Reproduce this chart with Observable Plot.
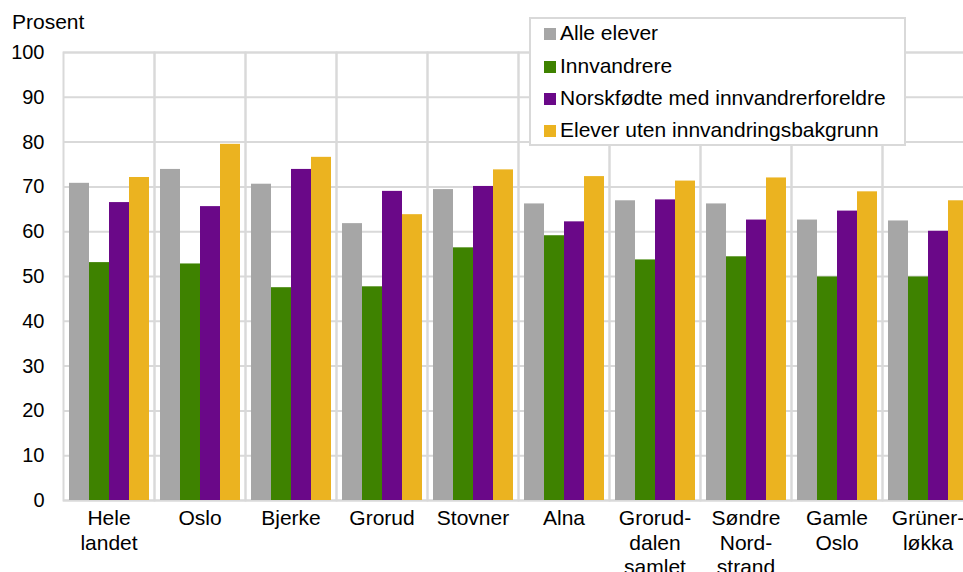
<!DOCTYPE html>
<html>
<head>
<meta charset="utf-8">
<script src="https://cdn.jsdelivr.net/npm/d3@7"></script>
<script src="https://cdn.jsdelivr.net/npm/@observablehq/plot@0.6"></script>
<style>
  body { margin: 0; background: #fff; font-family: "Liberation Sans", Arial, sans-serif; }
  #wrap { position: relative; width: 963px; height: 572px; overflow: hidden; }
  #ylab { position: absolute; left: 12px; top: 10px; font-size: 21px; color: #000; }
  #legend { position: absolute; left: 529px; top: 17px; width: 373px; height: 125px;
    border: 2px solid #d9d9d9; background: #fff; }
  .row { position: absolute; left: 13px; font-size: 21px; line-height: 20px; color: #000; white-space: nowrap; }
  .sw { display: inline-block; width: 12px; height: 12px; margin-right: 4px; vertical-align: 0px; }
</style>
</head>
<body>
<div id="wrap">
  <div id="chart"></div>
  <div id="ylab">Prosent</div>
  <div id="legend"></div>
</div>
<script>
const categories = ["Hele\nlandet", "Oslo", "Bjerke", "Grorud", "Stovner", "Alna", "Grorud-\ndalen\nsamlet", "Søndre\nNord-\nstrand", "Gamle\nOslo", "Grüner-\nløkka"];
const series = ["Alle elever", "Innvandrere", "Norskfødte med innvandrerforeldre", "Elever uten innvandringsbakgrunn"];
const colors = ["#a6a6a6", "#3e8200", "#6a0888", "#ebb320"];
const alleElever   = [70.8, 73.9, 70.6, 61.8, 69.4, 66.2, 66.9, 66.2, 62.6, 62.4];
const innvandrere  = [53.1, 52.8, 47.5, 47.7, 56.4, 59.1, 53.7, 54.4, 49.9, 49.9];
const norskfodte   = [66.5, 65.6, 73.9, 69.0, 70.1, 62.2, 67.1, 62.6, 64.6, 60.1];
const utenBakgrunn = [72.1, 79.5, 76.6, 63.8, 73.8, 72.3, 71.3, 72.0, 68.9, 66.9];
const yTicks = [0, 10, 20, 30, 40, 50, 60, 70, 80, 90, 100];

const valueArrays = [alleElever, innvandrere, norskfodte, utenBakgrunn];
const data = [];
categories.forEach((c, i) => {
  series.forEach((s, j) => data.push({cat: c, series: s, value: valueArrays[j][i]}));
});

const chart = Plot.plot({
  width: 963,
  height: 572,
  marginLeft: 62,
  marginRight: -10,
  marginTop: 52,
  marginBottom: 72,
  style: {fontFamily: "'Liberation Sans', Arial, sans-serif", fontSize: "21px", color: "#000", background: "transparent"},
  fx: {domain: categories, padding: 0, axis: null},
  x: {domain: series, axis: null, paddingInner: 0, paddingOuter: 0.25},
  y: {domain: [0, 100], axis: null},
  color: {domain: series, range: colors},
  marks: [
    Plot.gridY(yTicks, {stroke: "#d9d9d9", strokeWidth: 2, strokeOpacity: 1}),
    Plot.frame({stroke: "#d9d9d9", strokeWidth: 2}),
    Plot.barY(data, {fx: "cat", x: "series", y: "value", fill: "series"}),
    Plot.axisY(yTicks, {anchor: "left", tickSize: 0, tickPadding: 19, fontSize: 20, label: null}),
    Plot.axisFx({anchor: "bottom", tickSize: 0, tickPadding: 7, fontSize: 21, lineHeight: 1.17, label: null})
  ]
});
document.getElementById("chart").appendChild(chart);

const legend = document.getElementById("legend");
const rowTops = [4, 37, 69, 101];
series.forEach((s, j) => {
  const row = document.createElement("div");
  row.className = "row";
  row.style.top = rowTops[j] + "px";
  row.innerHTML = `<span class="sw" style="background:${colors[j]}"></span>${s}`;
  legend.appendChild(row);
});
</script>
</body>
</html>
